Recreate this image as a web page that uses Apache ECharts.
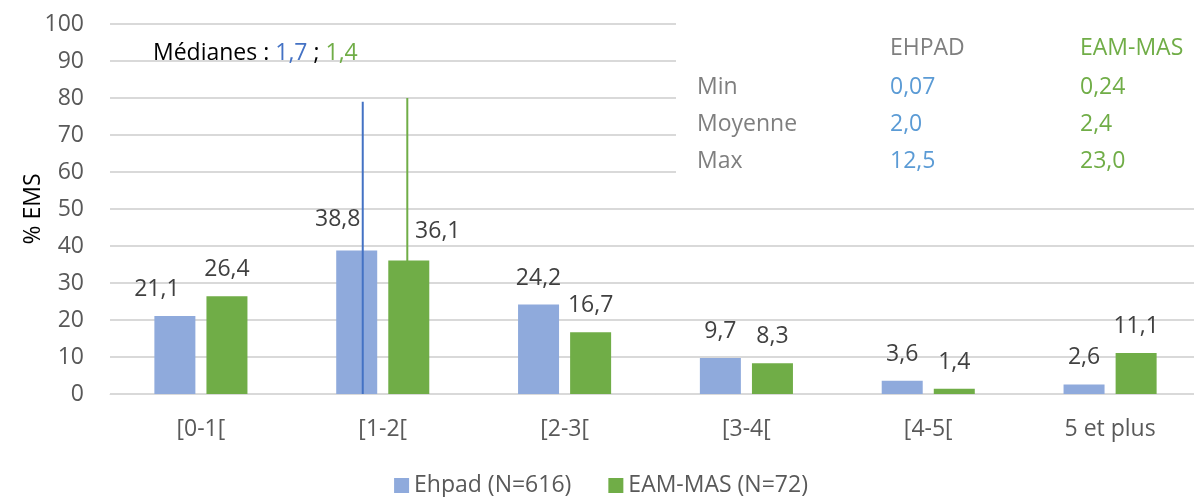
<!DOCTYPE html>
<html>
<head>
<meta charset="utf-8">
<script src="https://cdn.jsdelivr.net/npm/echarts@6/dist/echarts.min.js"></script>
<style>
  html, body { margin: 0; padding: 0; background: #fff; overflow: hidden; }
  #main { width: 1202px; height: 497px; }
</style>
</head>
<body>
<div id="main"></div>
<script>
var categories = ['[0-1[', '[1-2[', '[2-3[', '[3-4[', '[4-5[', '5 et plus'];
var ehpadValues = [21.1, 38.8, 24.2, 9.7, 3.6, 2.6];
var eamValues = [26.4, 36.1, 16.7, 8.3, 1.4, 11.1];
var yTicks = [0, 10, 20, 30, 40, 50, 60, 70, 80, 90, 100];

// médianes : position sur l'axe caché (0..6) et hauteur du trait
var medianEhpad = [[1.39, 0], [1.39, 79]];
var medianEam = [[1.635, 0], [1.635, 80]];

var tableHead = ['EHPAD', 'EAM-MAS'];
var tableRows = ['Min', 'Moyenne', 'Max'];
var ehpadStats = ['0,07', '2,0', '12,5'];
var eamStats = ['0,24', '2,4', '23,0'];

var FONT = 'Open Sans';
var FS = 23;
var BLUE_BAR = '#8faadc';
var GREEN = '#70ad47';
var BLUE_LINE = '#4472c4';
var BLUE_TXT = '#5b9bd5';

// quelques étiquettes déplacées à la main dans l'original
var labelShift = {
  ehpad: { 0: [-18, 0], 1: [-19, -4] },
  eam: { 1: [29, -2] }
};

function fmt(v) { return String(v.toFixed(1)).replace('.', ','); }

function barData(values, key) {
  return values.map(function (v, i) {
    var item = { value: v };
    if (labelShift[key][i]) item.label = { offset: labelShift[key][i] };
    return item;
  });
}

var chart = echarts.init(document.getElementById('main'), null, { renderer: 'canvas' });

var graphics = [
  { type: 'rect', left: 676, top: 12, shape: { width: 530, height: 182 }, style: { fill: '#fff' }, z: 5 },
  {
    type: 'text', left: 153, top: 42, z: 10,
    style: {
      text: '{k|Médianes : }{b|1,7}{k| ; }{g|1,4}',
      rich: {
        k: { fontFamily: FONT, fontSize: FS, fill: '#000' },
        b: { fontFamily: FONT, fontSize: FS, fill: BLUE_LINE },
        g: { fontFamily: FONT, fontSize: FS, fill: GREEN }
      }
    }
  },
  { type: 'text', left: 890, top: 37, z: 10, style: { text: tableHead[0], fontFamily: FONT, fontSize: FS, fill: '#7f7f7f' } },
  { type: 'text', left: 1080, top: 37, z: 10, style: { text: tableHead[1], fontFamily: FONT, fontSize: FS, fill: GREEN } }
];
tableRows.forEach(function (r, i) {
  var top = 76 + i * 37;
  graphics.push({ type: 'text', left: 697, top: top, z: 10, style: { text: r, fontFamily: FONT, fontSize: FS, fill: '#7f7f7f' } });
  graphics.push({ type: 'text', left: 890, top: top, z: 10, style: { text: ehpadStats[i], fontFamily: FONT, fontSize: FS, fill: BLUE_TXT } });
  graphics.push({ type: 'text', left: 1080, top: top, z: 10, style: { text: eamStats[i], fontFamily: FONT, fontSize: FS, fill: GREEN } });
});

var barLabel = {
  show: true, position: 'top', distance: 15, color: '#404040',
  fontSize: FS, fontFamily: FONT,
  formatter: function (p) { return fmt(p.value); }
};

var option = {
  animation: false,
  textStyle: { fontFamily: FONT },
  grid: { left: 110, top: 24, right: 1, bottom: 103, containLabel: false },
  legend: {
    top: 469,
    left: 'center',
    itemWidth: 15,
    itemHeight: 15,
    itemGap: 37,
    icon: 'rect',
    textStyle: { fontFamily: FONT, fontSize: FS, color: '#595959' },
    data: ['Ehpad (N=616)', 'EAM-MAS (N=72)']
  },
  xAxis: [{
    type: 'category',
    data: categories,
    axisLine: { show: true, lineStyle: { color: '#d9d9d9', width: 1 } },
    axisTick: { show: false },
    axisLabel: { color: '#595959', fontSize: FS, fontFamily: FONT, margin: 24 }
  }, {
    type: 'value',
    min: 0,
    max: 6,
    show: false
  }],
  yAxis: {
    type: 'value',
    min: yTicks[0],
    max: yTicks[yTicks.length - 1],
    interval: 10,
    name: '% EMS',
    nameLocation: 'middle',
    nameGap: 65,
    nameMoveOverlap: false,
    nameRotate: 90,
    nameTextStyle: { color: '#000', fontSize: FS, fontFamily: FONT },
    axisLine: { show: false },
    axisTick: { show: false },
    axisLabel: { color: '#595959', fontSize: FS, fontFamily: FONT, margin: 26 },
    splitLine: { lineStyle: { color: '#d9d9d9', width: 2 } }
  },
  series: [{
    name: 'Ehpad (N=616)',
    type: 'bar',
    data: barData(ehpadValues, 'ehpad'),
    barWidth: 41,
    barGap: '27%',
    itemStyle: { color: BLUE_BAR },
    label: barLabel
  }, {
    name: 'EAM-MAS (N=72)',
    type: 'bar',
    data: barData(eamValues, 'eam'),
    barWidth: 41,
    itemStyle: { color: GREEN },
    label: barLabel
  }, {
    type: 'line',
    xAxisIndex: 1,
    data: medianEhpad,
    symbol: 'none',
    z: 4,
    lineStyle: { color: BLUE_LINE, width: 2 },
    silent: true
  }, {
    type: 'line',
    xAxisIndex: 1,
    data: medianEam,
    symbol: 'none',
    z: 1,
    lineStyle: { color: GREEN, width: 2 },
    silent: true
  }],
  graphic: graphics
};

chart.setOption(option);
</script>
</body>
</html>
